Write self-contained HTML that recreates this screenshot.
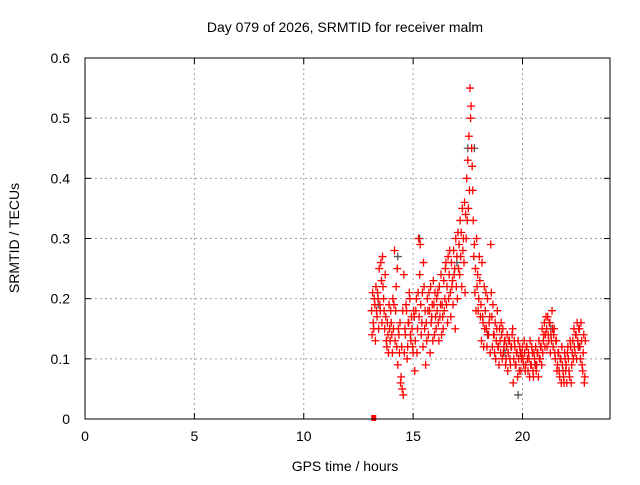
<!DOCTYPE html>
<html><head><meta charset="utf-8"><style>
body{margin:0;background:#fff}
svg{font-family:"Liberation Sans",sans-serif;font-size:14px}
</style></head><body>
<svg id="c" width="640" height="480" viewBox="0 0 640 480">
<text x="345" y="32" text-anchor="middle">Day 079 of 2026, SRMTID for receiver malm</text>
<text x="345" y="471" text-anchor="middle">GPS time / hours</text>
<text transform="translate(19,238) rotate(-90)" text-anchor="middle">SRMTID / TECUs</text>
<g id="grid"></g><g id="ticks"></g><g id="marks"></g>
<rect x="85" y="58" width="525" height="361" fill="none" stroke="#000"/>
</svg>
<script>
const xTicks=[0,5,10,15,20];
const yTicks=[0,0.1,0.2,0.3,0.4,0.5,0.6];
const yTickLabels=["0","0.1","0.2","0.3","0.4","0.5","0.6"];
const tStart=13.1, tStep=0.05;
const seriesA=[.18,.21,.15,.19,.22,.17,.20,.25,.18,.23,
.27,.20,.15,.17,.12,.14,.19,.13,.16,.11,
.15,.28,.18,.12,.09,.14,.16,.07,.05,.04,
.11,.14,.18,.12,.16,.20,.13,.15,.11,.17,
.13,.20,.15,.30,.24,.19,.16,.12,.22,.18,
.16,.20,.14,.18,.22,.17,.13,.19,.21,.15,
.18,.16,.22,.19,.14,.17,.23,.20,.26,.22,
.27,.24,.21,.26,.23,.28,.25,.30,.27,.31,
.29,.33,.31,.35,.30,.36,.34,.40,.43,.47,
.55,.52,.42,.33,.29,.25,.30,.24,.20,.23,
.19,.26,.16,.22,.18,.15,.20,.14,.17,.29,
.17,.19,.14,.16,.13,.18,.12,.15,.11,.14,
.15,.12,.13,.10,.14,.11,.13,.09,.12,.15,
.10,.12,.09,.11,.13,.08,.11,.10,.12,.09,
.11,.09,.12,.08,.10,.13,.09,.11,.07,.10,
.12,.09,.11,.13,.10,.12,.15,.13,.16,.14,
.15,.17,.13,.16,.14,.18,.12,.15,.10,.13,
.09,.11,.07,.10,.12,.08,.06,.10,.09,.11,
.10,.07,.12,.09,.13,.15,.11,.14,.16,.12,
.15,.10,.13,.08,.14,.07];
const seriesB=[.14,.16,.20,.13,.18,.21,.15,.19,.26,.16,
.22,.18,.24,.13,.16,.11,.15,.18,.14,.20,
.19,.13,.22,.25,.15,.11,.06,.12,.18,.24,
.15,.19,.10,.16,.21,.14,.17,.12,.18,.08,
.18,.11,.21,.17,.29,.14,.21,.26,.15,.09,
.13,.18,.21,.11,.16,.19,.23,.14,.17,.20,
.21,.13,.17,.24,.19,.15,.18,.25,.19,.16,
.20,.28,.17,.22,.19,.24,.15,.22,.20,.25,
.24,.27,.22,.28,.26,.21,.30,.33,.35,.38,
.50,.45,.38,.27,.21,.18,.22,.18,.27,.17,
.13,.17,.12,.15,.21,.12,.14,.16,.11,.21,
.12,.14,.11,.10,.15,.12,.09,.13,.16,.10,
.11,.13,.09,.12,.08,.13,.10,.12,.14,.06,
.13,.09,.11,.07,.10,.12,.08,.11,.10,.13,
.08,.12,.10,.11,.07,.09,.12,.08,.11,.09,
.08,.11,.07,.10,.12,.09,.11,.14,.12,.17,
.12,.14,.16,.11,.13,.15,.14,.11,.13,.08,
.11,.08,.10,.06,.09,.07,.11,.08,.06,.12,
.08,.13,.06,.11,.10,.12,.14,.10,.13,.15,
.12,.16,.09,.11,.06,.13];
const greyT=[13.4,14.3,15.3,16.2,17.0,17.5,17.8,18.4,19.2,19.8,20.6,21.3,22.6];
const greyV=[0.19,0.27,0.30,0.22,0.26,0.45,0.45,0.14,0.11,0.04,0.09,0.15,0.12];
const zeroT=[13.2], zeroV=[0];
const X=t=>85+t*(525/24), Y=v=>419-v*(361/0.6);
const NS="http://www.w3.org/2000/svg";
const g=document.getElementById('grid'),tk=document.getElementById('ticks'),mk=document.getElementById('marks');
function el(p,tag,a){const e=document.createElementNS(NS,tag);for(const k in a)e.setAttribute(k,a[k]);p.appendChild(e);return e;}
xTicks.forEach(t=>{const x=X(t);
 if(t>0){const l=el(g,'line',{x1:x,y1:58,x2:x,y2:419,stroke:'#a0a0a0','stroke-dasharray':'2,3'});
 }
 el(tk,'line',{x1:x,y1:419,x2:x,y2:413,stroke:'#000'});el(tk,'line',{x1:x,y1:58,x2:x,y2:64,stroke:'#000'});
 const tx=el(tk,'text',{x:x,y:441,'text-anchor':'middle'});tx.textContent=t;
 });
yTicks.forEach((v,i)=>{const y=Y(v);
 if(v>0&&v<0.6){const l=el(g,'line',{x1:85,y1:y,x2:610,y2:y,stroke:'#a0a0a0','stroke-dasharray':'2,3'});
 }
 el(tk,'line',{x1:85,y1:y,x2:91,y2:y,stroke:'#000'});el(tk,'line',{x1:610,y1:y,x2:604,y2:y,stroke:'#000'});
 const tx=el(tk,'text',{x:70,y:y+5,'text-anchor':'end'});tx.textContent=yTickLabels[i];
 });
function plus(t,v,c,name){const x=X(t),y=Y(v);
 const p=el(mk,'path',{d:`M${x-4},${y}h8M${x},${y-4}v8`,stroke:c,'stroke-width':1.3});
 }
greyT.forEach((t,i)=>plus(t,greyV[i],'#555','grey-point'));
seriesA.forEach((v,i)=>plus(tStart+i*tStep,v,'#f00','srmtid-point'));
seriesB.forEach((v,i)=>plus(tStart+i*tStep+0.025,v,'#f00','srmtid-point'));
zeroT.forEach((t,i)=>{const r=el(mk,'rect',{x:X(t)-2.5,y:Y(zeroV[i])-4,width:5,height:6,fill:'#f00'});
 });
</script>
</body></html>
